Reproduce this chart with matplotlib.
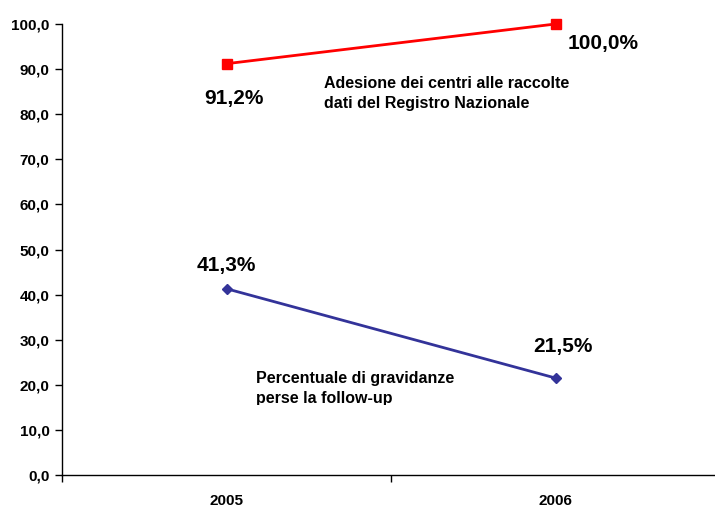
import matplotlib
matplotlib.use("Agg")
import matplotlib.pyplot as plt
from matplotlib.ticker import FixedLocator
from matplotlib.transforms import Bbox

plt.rcParams['font.family'] = ['Liberation Sans', 'DejaVu Sans']

years = ["2005", "2006"]
adesione = [91.2, 100.0]
perse = [41.3, 21.5]
adesione_labels = ["91,2%", "100,0%"]
perse_labels = ["41,3%", "21,5%"]
yticks = [0, 10, 20, 30, 40, 50, 60, 70, 80, 90, 100]

fig = plt.figure(figsize=(7.15, 5.07), dpi=100)
ax = fig.add_axes([62/715, 32/507, 658/715, 451/507])

x = list(range(len(years)))
ax.plot(x, adesione, color="#FF0000", lw=2, marker="s", ms=7.5, clip_on=False, zorder=3)
ax.plot(x, perse, color="#333399", lw=2, marker="D", ms=5, clip_on=False, zorder=3)

ax.set_xlim(-0.5, 1.5)
ax.set_ylim(0, 100)
ax.set_yticks(yticks)
ax.set_yticklabels([f"{v:.1f}".replace(".", ",") for v in yticks], fontsize=11, fontweight="bold")
ax.set_xticks(x)
ax.set_xticklabels(years, fontsize=11, fontweight="bold")
ax.tick_params(axis="x", which="major", length=0, pad=14)
ax.xaxis.set_minor_locator(FixedLocator([-0.5, 0.5, 1.5]))
ax.tick_params(axis="x", which="minor", length=5, width=1, direction="out")
ax.tick_params(axis="y", length=5, width=1, direction="out", pad=4)

for s in ["top", "right"]:
    ax.spines[s].set_visible(False)
for s in ["left", "bottom"]:
    ax.spines[s].set_linewidth(1)

# data labels
ax.annotate(adesione_labels[0], (x[0], adesione[0]), xytext=(5, -25), textcoords="offset points",
            ha="center", va="center", fontsize=15, fontweight="bold")
ax.annotate(adesione_labels[1], (x[1], adesione[1]), xytext=(9, -14), textcoords="offset points",
            ha="left", va="center", fontsize=15, fontweight="bold")
ax.annotate(perse_labels[0], (x[0], perse[0]), xytext=(0, 17), textcoords="offset points",
            ha="center", va="center", fontsize=15, fontweight="bold")
ax.annotate(perse_labels[1], (x[1], perse[1]), xytext=(5, 23), textcoords="offset points",
            ha="center", va="center", fontsize=15, fontweight="bold")

ax.text(0.295, 88.5, "Adesione dei centri alle raccolte\ndati del Registro Nazionale",
        fontsize=11.5, fontweight="bold", ha="left", va="top", linespacing=1.4)
t = ax.text(0.09, 23.1, "Percentuale di gravidanze\nperse la follow-up",
            fontsize=11.5, fontweight="bold", ha="left", va="top", linespacing=1.4)
t.set_clip_box(Bbox([[0, 102], [715, 507]]))
t.set_clip_on(True)

fig.savefig("out.png", dpi=100)
